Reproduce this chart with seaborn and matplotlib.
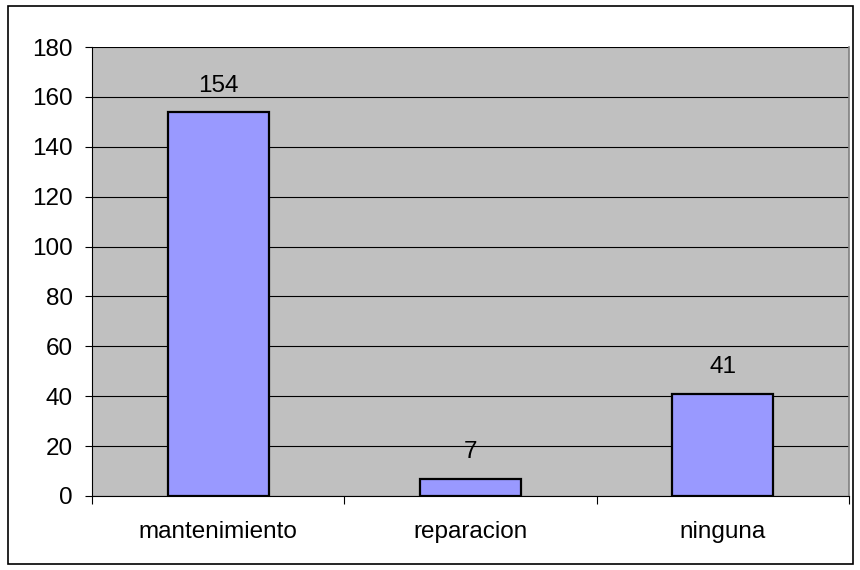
import matplotlib
matplotlib.use("Agg")
import matplotlib.pyplot as plt
import seaborn as sns
import pandas as pd
from matplotlib.patches import Rectangle

categories = ["mantenimiento", "reparacion", "ninguna"]
counts = [154, 7, 41]
yticks = [0, 20, 40, 60, 80, 100, 120, 140, 160, 180]

sns.set_style("white")
plt.rcParams['font.family'] = ['Liberation Sans', 'DejaVu Sans']
plt.rcParams['text.color'] = 'black'
plt.rcParams['xtick.color'] = 'black'
plt.rcParams['ytick.color'] = 'black'
fs = 17.5

df = pd.DataFrame({"tipo": categories, "n": counts})

fig = plt.figure(figsize=(8.6, 5.7), dpi=100)
ax = fig.add_axes([92 / 860, 1 - 496 / 570, 757 / 860, 449 / 570])
ax.set_facecolor("#C0C0C0")

sns.barplot(data=df, x="tipo", y="n", color="#9999FF", saturation=1,
            width=0.4, edgecolor="black", linewidth=1.6, ax=ax, zorder=3)

ax.set_ylim(0, 180)
ax.set_xlim(-0.5, 2.5)
ax.set_yticks(yticks)
ax.yaxis.grid(True, color="black", linewidth=0.8)
ax.set_axisbelow(True)
ax.set_xlabel("")
ax.set_ylabel("")

for i, v in enumerate(counts):
    ax.annotate(str(v), (i, v), xytext=(0, 11), textcoords="offset points",
                ha="center", va="bottom", fontsize=fs, color="black")

# x ticks at category boundaries, labels centred
ax.set_xticks([-0.5, 0.5, 1.5, 2.5], minor=False)
ax.set_xticklabels([])
ax.set_xticks([0, 1, 2], minor=True)
ax.set_xticklabels(categories, minor=True, fontsize=fs, color="black")
ax.tick_params(axis="x", which="minor", length=0, pad=18)
ax.tick_params(axis="x", which="major", length=5.5, width=0.8, color="black", direction="out", bottom=True)
ax.tick_params(axis="y", length=5, width=0.8, color="black", labelcolor="black",
               direction="out", left=True, labelsize=fs, pad=9)

ax.spines["top"].set_visible(False)
ax.spines["left"].set_color("black")
ax.spines["left"].set_linewidth(0.8)
ax.spines["bottom"].set_color("black")
ax.spines["bottom"].set_linewidth(0.8)
ax.spines["right"].set_color("#808080")
ax.spines["right"].set_linewidth(1.2)

fig.patches.append(Rectangle((8 / 860, 1 - 564 / 570), 845 / 860, 558 / 570,
                             transform=fig.transFigure, fill=False,
                             edgecolor="black", linewidth=1.2))

fig.savefig("out.png", dpi=100)
plt.close()
